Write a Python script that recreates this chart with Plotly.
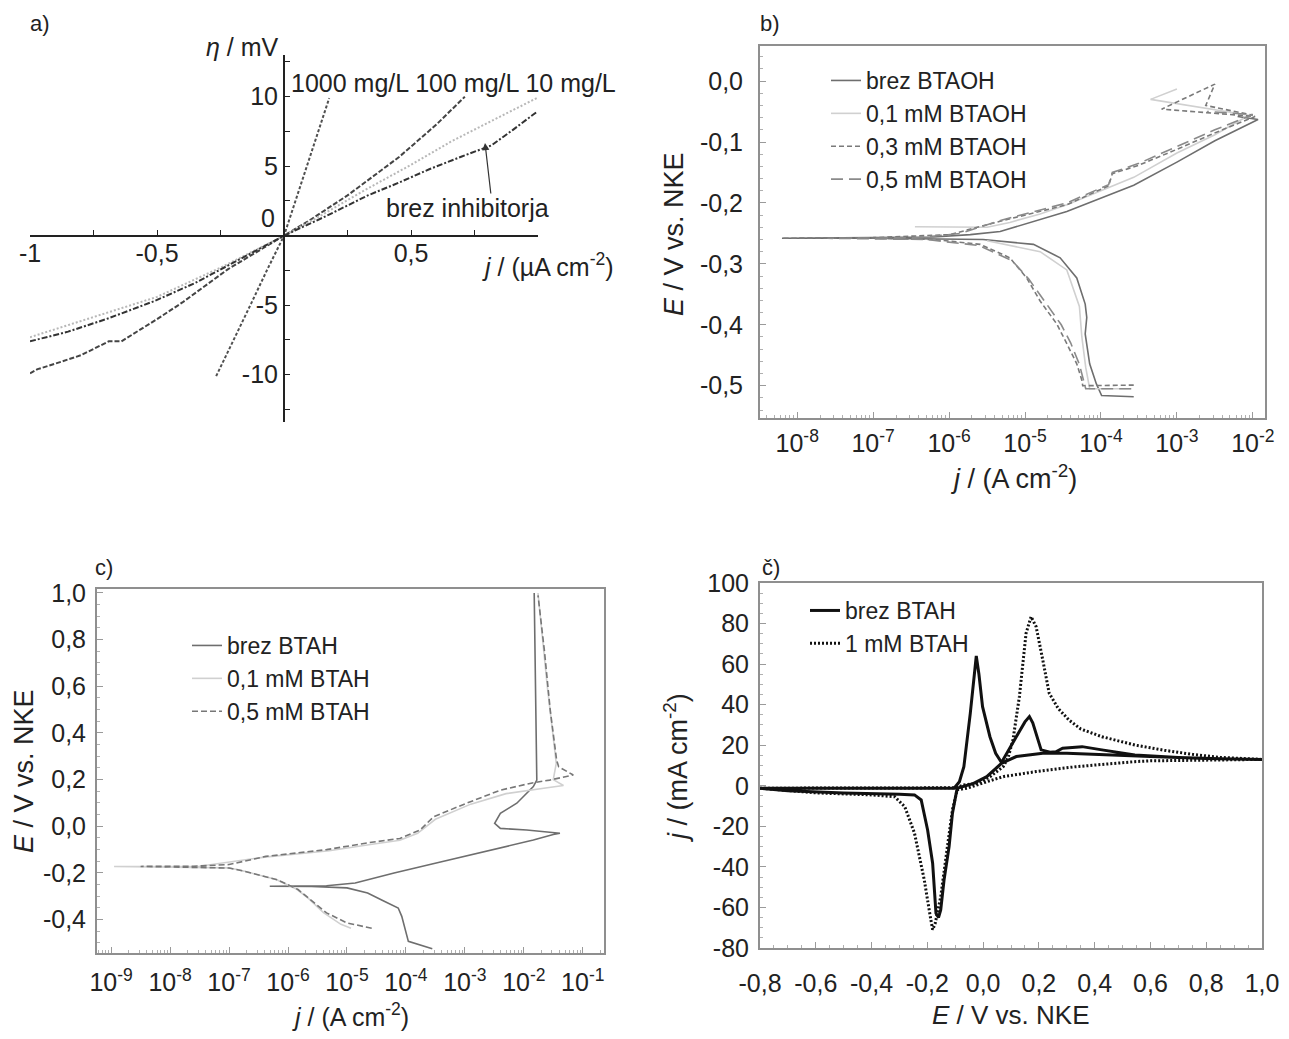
import plotly.graph_objects as go

# The page body has an 8 px margin: the figure is made small enough to fit the
# 1289x1039 window without scrollbars, and all positions below are screen pixels.
OFF = 8
W, H = 1289 - 2 * OFF, 1039 - 2 * OFF
FONT = "Liberation Sans, Arial, sans-serif"

# ---------------- panel a) : η / mV vs j / µA cm-2 ----------------
a_1000_j = [-0.267, -0.2, -0.13, -0.065, 0, 0.045, 0.09, 0.135, 0.178]
a_1000_eta = [-10.1, -7.6, -4.9, -2.4, 0, 2.5, 5.0, 7.5, 9.9]
a_100_j = [-1.0, -0.97, -0.9, -0.8, -0.69, -0.64, -0.5, -0.4, -0.22, -0.1, 0, 0.1, 0.25, 0.453, 0.6, 0.712]
a_100_eta = [-9.9, -9.6, -9.2, -8.6, -7.6, -7.6, -6.0, -4.8, -2.4, -1.1, 0, 1.1, 2.9, 5.66, 8.0, 10.0]
a_10_j = [-1.0, -0.5, -0.25, 0, 0.15, 0.33, 0.5, 0.655, 0.8, 0.995]
a_10_eta = [-7.3, -4.4, -2.3, 0, 1.5, 3.4, 5.1, 6.75, 8.1, 9.9]
a_brez_j = [-1.0, -0.85, -0.7, -0.51, -0.35, -0.235, -0.1, 0, 0.17, 0.33, 0.45, 0.574, 0.7, 0.817, 0.9, 0.995]
a_brez_eta = [-7.6, -6.9, -6.0, -4.7, -3.4, -2.3, -1.0, 0, 1.45, 2.9, 3.8, 4.8, 5.7, 6.5, 7.6, 8.9]

# ---------------- panel b) : BTAOH ----------------
b_brez_j = [2.7e-4, 1.02e-4, 8.7e-5, 7.1e-5, 6.2e-5, 6.5e-5, 6.2e-5, 4.8e-5, 2.9e-5, 1.29e-5, 2.8e-6, 5.5e-7,
            1e-7, 6.3e-9, 1e-7, 6.3e-7, 1.9e-6, 4.7e-6, 3.55e-5, 2.7e-4, 1e-3, 3.16e-3, 1.17e-2, 6.3e-3]
b_brez_E = [-0.518, -0.516, -0.497, -0.464, -0.415, -0.388, -0.366, -0.323, -0.29, -0.268, -0.26, -0.259,
            -0.258, -0.258, -0.257, -0.256, -0.252, -0.247, -0.214, -0.171, -0.133, -0.098, -0.063, -0.058]
b_01_j = [2.5e-4, 7.1e-5, 6.3e-5, 5.6e-5, 5.2e-5, 3.55e-5, 1.58e-5, 3.16e-6, None,
          3.55e-7, 3.16e-6, 6.3e-6, 1.58e-5, 3.55e-5, 2.7e-4, 1e-3, 3.16e-3, 8.9e-3, 4.5e-4, 1e-3]
b_01_E = [-0.505, -0.505, -0.47, -0.42, -0.37, -0.31, -0.28, -0.262, None,
          -0.239, -0.24, -0.232, -0.218, -0.203, -0.158, -0.118, -0.088, -0.056, -0.03, -0.013]
b_03_j = [2.7e-4, 5.75e-5, 5.6e-5, 4.8e-5, 3.55e-5, 2.63e-5, 1.58e-5, 1.05e-5, 6.3e-6, 2.57e-6, 6.3e-7, 1e-7,
          6.3e-9, 1e-7, 1.02e-6, 4.7e-6, 3.55e-5, 1.26e-4, 1.41e-4, 3.16e-4, 1e-3, 3.16e-3, 1.07e-2, 6.3e-4,
          3.16e-3, 2.4e-3, 1e-2]
b_03_E = [-0.499, -0.5, -0.491, -0.464, -0.431, -0.399, -0.361, -0.323, -0.29, -0.268, -0.26, -0.258,
          -0.258, -0.257, -0.252, -0.23, -0.203, -0.172, -0.152, -0.138, -0.112, -0.085, -0.058, -0.046,
          -0.005, -0.04, -0.056]
b_05_j = [2.5e-4, 6.3e-5, 6.0e-5, 5.2e-5, 4.0e-5, 3.0e-5, 1.78e-5, 1.12e-5, 6.8e-6, 2.5e-6, 5.0e-7, 2.5e-8,
          4.0e-7, 1.41e-6, 5.0e-6, 3.55e-5, 1.26e-4, 1.41e-4, 3.16e-4, 1e-3, 3.16e-3, 1e-2, 2.5e-3]
b_05_E = [-0.505, -0.505, -0.495, -0.465, -0.43, -0.4, -0.36, -0.325, -0.295, -0.27, -0.26, -0.258,
          -0.257, -0.25, -0.228, -0.2, -0.17, -0.15, -0.135, -0.108, -0.08, -0.055, -0.05]

# ---------------- panel c) : BTAH polarisation ----------------
c_brez_j = [2.8e-4, 1.1e-4, 8.5e-5, 7.4e-5, 4.2e-5, 2.24e-5, 1e-5, 2.5e-6, 4.9e-7, 4.5e-6, 1.38e-5, 6.3e-5,
            3.55e-4, 4.0e-3, 1.45e-2, 3.16e-2, 4.1e-2, 1.12e-2, 4.0e-3, 3.2e-3, 4.0e-3, 7.6e-3, 1.45e-2,
            1.66e-2, 1.58e-2, 1.5e-2]
c_brez_E = [-0.525, -0.493, -0.386, -0.35, -0.32, -0.286, -0.264, -0.258, -0.257, -0.255, -0.243, -0.2,
            -0.155, -0.094, -0.059, -0.035, -0.03, -0.016, -0.009, 0.013, 0.056, 0.099, 0.17, 0.198, 0.6, 1.0]
c_01_j = [1.17e-5, 7.9e-6, 4.0e-6, 2.24e-6, 1.41e-6, 6.3e-7, 1.78e-7, 1e-7, 1.12e-9, 3.16e-8, 4.0e-7, 5.0e-6,
          2.5e-5, 7.9e-5, 1.58e-4, 3.16e-4, 1.26e-3, 5.0e-3, 2.5e-2, 4.7e-2, 3.16e-2, 3.55e-2, 2.5e-2, 1.74e-2]
c_01_E = [-0.437, -0.42, -0.37, -0.31, -0.27, -0.228, -0.192, -0.178, -0.172, -0.171, -0.132, -0.105,
          -0.078, -0.06, -0.03, 0.03, 0.095, 0.14, 0.165, 0.175, 0.2, 0.27, 0.6, 1.0]
c_05_j = [2.63e-5, 1e-5, 4.5e-6, 2.4e-6, 1.48e-6, 6.6e-7, 1.86e-7, 1e-7, 3.16e-9, 2.5e-8, 1e-7, 4.2e-7, 4.5e-6,
          2.24e-5, 7.9e-5, 1.74e-4, 2.95e-4, 1.07e-3, 4.0e-3, 1.45e-2, 2.75e-2, 6.9e-2, 3.9e-2, 3.6e-2,
          2.8e-2, 2.24e-2, 1.74e-2]
c_05_E = [-0.437, -0.414, -0.371, -0.314, -0.271, -0.229, -0.193, -0.179, -0.172, -0.171, -0.164, -0.129, -0.1,
          -0.071, -0.052, -0.016, 0.041, 0.099, 0.155, 0.187, 0.198, 0.22, 0.255, 0.284, 0.5, 0.75, 0.99]

# ---------------- panel č) : cyclic voltammograms ----------------
d_brez_E = [-0.8, -0.6, -0.4, -0.2, -0.104, -0.085, -0.069, -0.046, -0.03, -0.0245, -0.015, -0.002, 0.0245,
            0.045, 0.066, 0.09, 0.119, 0.15, 0.166, 0.178, 0.19, 0.208, 0.24, 0.261, 0.285, 0.355, 0.426,
            0.544, 0.7, 0.85, 1.0,
            0.8, 0.6, 0.4, 0.3, 0.214, 0.119, 0.066, 0.013, -0.034, -0.093, -0.11, -0.122, -0.14, -0.152,
            -0.16, -0.169, -0.181, -0.199, -0.222, -0.246, -0.3, -0.5, -0.7, -0.8]
d_brez_j = [-1.2, -1.2, -1.2, -1.2, -1.2, 2.0, 9.4, 35.7, 58, 64, 55, 39, 24.2,
            16, 11.5, 17, 24.2, 31.5, 34.1, 31, 25.9, 17.7, 16.5, 16.8, 18.5, 19.3, 17.7,
            15.2, 14, 13.3, 13,
            13.5, 14.5, 15.5, 16, 16, 14.4, 11.1, 4.5, 1.2, -1.2, -13.6, -30, -46.4, -61.2,
            -65, -62.9, -38.2, -21.8, -7, -4.5, -4.2, -3.6, -2.5, -1.2]
d_1mM_E = [-0.8, -0.6, -0.4, -0.2, -0.1, -0.069, -0.022, 0.025, 0.072, 0.09, 0.107, 0.13, 0.154, 0.172,
           0.19, 0.214, 0.237, 0.27, 0.308, 0.35, 0.426, 0.544, 0.65, 0.75, 0.85, 1.0,
           0.8, 0.6, 0.544, 0.332, 0.19, 0.072, 0.013, -0.058, -0.093, -0.11, -0.128, -0.152, -0.172,
           -0.181, -0.19, -0.211, -0.246, -0.281, -0.317, -0.4, -0.6, -0.8]
d_1mM_j = [-1.2, -1.2, -1.2, -1.2, -1.0, 0.4, 1.2, 4.5, 9.4, 14, 22.6, 43.9, 75.2, 83.4,
           78.5, 62, 45.6, 38, 32.4, 28, 24.2, 20.1, 17.5, 15.5, 14, 13,
           12.8, 12.3, 11.9, 9.4, 7, 4.5, 2, -1.2, -2, -11.9, -30, -54.7, -68,
           -71, -64, -46.4, -23.4, -10.3, -5.4, -4.5, -3.5, -1.2]

# tick values
a_xticks = [-1, -0.5, 0.5]
a_xlabels = ["-1", "-0,5", "0,5"]
a_xminor = [-0.75, -0.25, 0, 0.25, 0.75, 1]
a_yticks = [-10, -5, 5, 10]
a_ylabels = ["-10", "-5", "5", "10"]
a_yminor = [-12.5, -7.5, -2.5, 0, 2.5, 7.5, 12.5]
b_xticks = [1e-8, 1e-7, 1e-6, 1e-5, 1e-4, 1e-3, 1e-2]
b_yticks = [0.0, -0.1, -0.2, -0.3, -0.4, -0.5]
c_xticks = [1e-9, 1e-8, 1e-7, 1e-6, 1e-5, 1e-4, 1e-3, 1e-2, 1e-1]
c_yticks = [1.0, 0.8, 0.6, 0.4, 0.2, 0.0, -0.2, -0.4]
d_xticks = [-0.8, -0.6, -0.4, -0.2, 0.0, 0.2, 0.4, 0.6, 0.8, 1.0]
d_yticks = [100, 80, 60, 40, 20, 0, -20, -40, -60, -80]


def px(x):
    return (x - OFF) / W


def py(y):
    return 1 - (y - OFF) / H


def dec(v):
    return f"{v:.1f}".replace(".", ",")


def powlab(v):
    import math
    return f"10<sup>{int(round(math.log10(v)))}</sup>"


def log_minor(lo, hi):
    vals = []
    for e in range(lo, hi):
        for m in range(2, 10):
            vals.append(m * 10.0 ** e)
    return vals


fig = go.Figure()

# panel a traces
fig.add_trace(go.Scatter(x=a_1000_j, y=a_1000_eta, mode="lines", xaxis="x", yaxis="y", showlegend=False,
                         line=dict(color="#505050", width=2, dash="3px,2px")))
fig.add_trace(go.Scatter(x=a_100_j, y=a_100_eta, mode="lines", xaxis="x", yaxis="y", showlegend=False,
                         line=dict(color="#444444", width=2, dash="5px,2px")))
fig.add_trace(go.Scatter(x=a_10_j, y=a_10_eta, mode="lines", xaxis="x", yaxis="y", showlegend=False,
                         line=dict(color="#b8b8b8", width=2, dash="2px,2px")))
fig.add_trace(go.Scatter(x=a_brez_j, y=a_brez_eta, mode="lines", xaxis="x", yaxis="y", showlegend=False,
                         line=dict(color="#333333", width=2, dash="6px,2px,2px,2px")))

# panel b traces
fig.add_trace(go.Scatter(x=b_brez_j, y=b_brez_E, mode="lines", xaxis="x2", yaxis="y2", name="brez BTAOH",
                         legend="legend", line=dict(color="#6e6e6e", width=1.6)))
fig.add_trace(go.Scatter(x=b_01_j, y=b_01_E, mode="lines", xaxis="x2", yaxis="y2", name="0,1 mM BTAOH",
                         legend="legend", connectgaps=False, line=dict(color="#d0d0d0", width=1.6)))
fig.add_trace(go.Scatter(x=b_03_j, y=b_03_E, mode="lines", xaxis="x2", yaxis="y2", name="0,3 mM BTAOH",
                         legend="legend", line=dict(color="#7a7a7a", width=1.6, dash="5px,3px")))
fig.add_trace(go.Scatter(x=b_05_j, y=b_05_E, mode="lines", xaxis="x2", yaxis="y2", name="0,5 mM BTAOH",
                         legend="legend", line=dict(color="#8a8a8a", width=1.6, dash="12px,6px")))

# panel c traces
fig.add_trace(go.Scatter(x=c_brez_j, y=c_brez_E, mode="lines", xaxis="x3", yaxis="y3", name="brez BTAH",
                         legend="legend2", line=dict(color="#6e6e6e", width=1.6)))
fig.add_trace(go.Scatter(x=c_01_j, y=c_01_E, mode="lines", xaxis="x3", yaxis="y3", name="0,1 mM BTAH",
                         legend="legend2", line=dict(color="#d0d0d0", width=1.6)))
fig.add_trace(go.Scatter(x=c_05_j, y=c_05_E, mode="lines", xaxis="x3", yaxis="y3", name="0,5 mM BTAH",
                         legend="legend2", line=dict(color="#777777", width=1.6, dash="6px,3px")))

# panel d traces
fig.add_trace(go.Scatter(x=d_brez_E, y=d_brez_j, mode="lines", xaxis="x4", yaxis="y4", name="brez BTAH",
                         legend="legend3", line=dict(color="#111111", width=3)))
fig.add_trace(go.Scatter(x=d_1mM_E, y=d_1mM_j, mode="lines", xaxis="x4", yaxis="y4", name="1 mM BTAH",
                         legend="legend3", line=dict(color="#111111", width=3, dash="2px,2px")))

TICKF = dict(family=FONT, size=25, color="#222222")
BOX = dict(showline=True, mirror=True, linecolor="#8f8f8f", linewidth=2, showgrid=False, zeroline=False,
           ticks="inside", tickcolor="#9a9a9a", ticklen=6, tickfont=TICKF, tickangle=0, automargin=False)
LEGF = dict(family=FONT, size=23, color="#222222")

layout = dict(
    width=W, height=H, margin=dict(l=0, r=0, t=0, b=0, pad=0, autoexpand=False),
    paper_bgcolor="white", plot_bgcolor="white", font=dict(family=FONT, color="#222222"),
    # panel a axes (crossing at origin)
    xaxis=dict(domain=[px(30), px(538)], range=[-1, 1], anchor="free", position=py(236), showline=True,
               linecolor="#222222", linewidth=2, ticks="inside", ticklen=5, tickcolor="#222222",
               tickvals=a_xticks, ticktext=a_xlabels, showgrid=False, zeroline=False, automargin=False,
               minor=dict(tickvals=a_xminor, ticks="inside", ticklen=5, tickcolor="#222222"),
               ticklabelstandoff=-5, tickfont=dict(family=FONT, size=25, color="#222222"), tickangle=0),
    yaxis=dict(domain=[py(422), py(55)], range=[-13.4, 13.0], anchor="free", position=px(284),
               showline=True, linecolor="#222222", linewidth=2, ticks="inside", ticklen=5, automargin=False,
               tickcolor="#222222", tickvals=a_yticks, ticktext=a_ylabels, showgrid=False, zeroline=False,
               minor=dict(tickvals=a_yminor, ticks="inside", ticklen=5, tickcolor="#222222"),
               tickfont=dict(family=FONT, size=25, color="#222222")),
    # panel b
    xaxis2=dict(BOX, domain=[px(760), px(1265)], type="log", range=[-8.49, -1.84], anchor="y2",
                tickvals=b_xticks, ticktext=[powlab(v) for v in b_xticks], ticklabelstandoff=2,
                minor=dict(tickvals=log_minor(-9, -1), ticks="inside", ticklen=3, tickcolor="#b0b0b0")),
    yaxis2=dict(BOX, domain=[py(418), py(46)], range=[-0.553, 0.0576], anchor="x2",
                tickvals=b_yticks, ticktext=[dec(v) for v in b_yticks], ticklabelstandoff=10,
                minor=dict(dtick=0.02, ticks="inside", ticklen=3, tickcolor="#b0b0b0")),
    # panel c
    xaxis3=dict(BOX, domain=[px(97), px(604)], type="log", range=[-9.24, -0.64], anchor="y3",
                tickvals=c_xticks, ticktext=[powlab(v) for v in c_xticks], ticklabelstandoff=6,
                minor=dict(tickvals=log_minor(-10, 0), ticks="inside", ticklen=3, tickcolor="#b0b0b0")),
    yaxis3=dict(BOX, domain=[py(953), py(589)], range=[-0.543, 1.017], anchor="x3",
                tickvals=c_yticks, ticktext=[dec(v) for v in c_yticks], ticklabelstandoff=4,
                minor=dict(dtick=0.05, ticks="inside", ticklen=3, tickcolor="#b0b0b0")),
    # panel č
    xaxis4=dict(BOX, domain=[px(760), px(1262)], range=[-0.8, 1.0], anchor="y4",
                tickvals=d_xticks, ticktext=[dec(v) for v in d_xticks], ticklabelstandoff=12,
                minor=dict(dtick=0.05, ticks="inside", ticklen=3, tickcolor="#b0b0b0")),
    yaxis4=dict(BOX, domain=[py(948), py(583)], range=[-80, 100], anchor="x4",
                tickvals=d_yticks, ticktext=[str(v) for v in d_yticks], ticklabelstandoff=4,
                minor=dict(dtick=5, ticks="inside", ticklen=3, tickcolor="#b0b0b0")),
    legend=dict(x=px(826), y=py(59), xanchor="left", yanchor="top", bgcolor="rgba(0,0,0,0)", font=LEGF),
    legend2=dict(x=px(187), y=py(624), xanchor="left", yanchor="top", bgcolor="rgba(0,0,0,0)", font=LEGF),
    legend3=dict(x=px(805), y=py(589), xanchor="left", yanchor="top", bgcolor="rgba(0,0,0,0)", font=LEGF),
)
fig.update_layout(**layout)


def ann(text, x, y, size=24, xanchor="center", yanchor="middle", angle=0):
    fig.add_annotation(text=text, x=px(x), y=py(y), xref="paper", yref="paper", showarrow=False,
                       xanchor=xanchor, yanchor=yanchor, textangle=angle,
                       font=dict(family=FONT, size=size, color="#222222"))


# panel letters
ann("a)", 40, 24, 22)
ann("b)", 770, 24, 22)
ann("c)", 104, 567, 22)
ann("č)", 771, 567, 22)

# panel a texts
ann("<i>η</i> / mV", 281, 47, 25, xanchor="right")
ann("1000 mg/L 100 mg/L 10 mg/L", 289, 83, 25, xanchor="left")
ann("brez inhibitorja", 384, 208, 25, xanchor="left")
ann("<i>j</i> / (µA cm<sup>-2</sup>)", 480, 265, 25, xanchor="left")
ann("0", 268, 218, 25)
fig.add_annotation(x=px(485), y=py(143), xref="paper", yref="paper", text="", showarrow=True,
                   ax=6, ay=52, arrowhead=2, arrowsize=1.2, arrowwidth=1.2, arrowcolor="#333333")

# axis titles
ann("<i>E</i> / V vs. NKE", 674, 234, 27, angle=-90)
ann("<i>j</i> / (A cm<sup>-2</sup>)", 1013, 477, 27)
ann("<i>E</i> / V vs. NKE", 24, 771, 27, angle=-90)
ann("<i>j</i> / (A cm<sup>-2</sup>)", 350, 1015, 25)
ann("<i>j</i> / (mA cm<sup>-2</sup>)", 676, 768, 27, angle=-90)
ann("<i>E</i> / V vs. NKE", 1011, 1015, 26)

fig.write_html("out.html")
